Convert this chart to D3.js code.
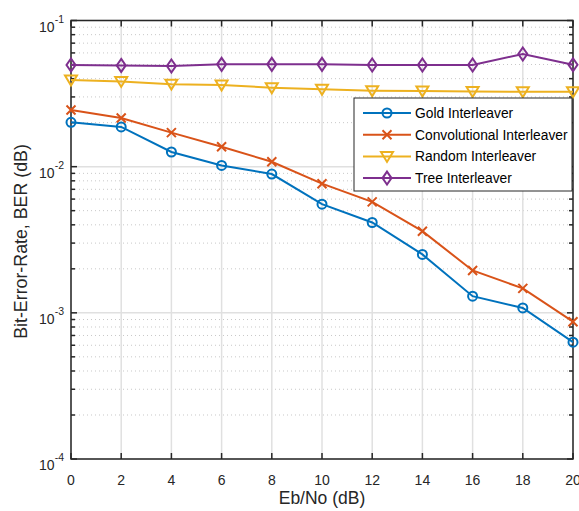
<!DOCTYPE html>
<html>
<head>
<meta charset="utf-8">
<script src="https://d3js.org/d3.v7.min.js"></script>
<style>
body { margin: 0; background: #fff; }
svg { display: block; font-family: "Liberation Sans", Arial, sans-serif; }
</style>
</head>
<body>
<script>
// data
var ebno = [0, 2, 4, 6, 8, 10, 12, 14, 16, 18, 20];
var goldBer = [0.0201, 0.0187, 0.0126, 0.0102, 0.0089, 0.00554, 0.00415, 0.00251, 0.0013, 0.00108, 0.00063];
var convBer = [0.0244, 0.0215, 0.0171, 0.0137, 0.0108, 0.00765, 0.00574, 0.00362, 0.00195, 0.00147, 0.00087];
var randBer = [0.0391, 0.0383, 0.0367, 0.0362, 0.0347, 0.0338, 0.0331, 0.0329, 0.0327, 0.0325, 0.0325];
var treeBer = [0.0496, 0.0493, 0.0488, 0.0501, 0.0501, 0.0501, 0.0496, 0.0496, 0.0496, 0.059, 0.0498];
var seriesNames = ["Gold Interleaver", "Convolutional Interleaver", "Random Interleaver", "Tree Interleaver"];
var xTicks = [0, 2, 4, 6, 8, 10, 12, 14, 16, 18, 20];
var yDecades = [-4, -3, -2, -1];

var W = 579, H = 511;
var pL = 71, pR = 573, pT = 20.5, pB = 459;

var colors = ["#0072BD", "#D95319", "#EDB120", "#7E2F8E"];
var markers = ["circle", "x", "tri", "diamond"];
var series = [goldBer, convBer, randBer, treeBer];

var svg = d3.select("body").append("svg")
    .attr("width", W)
    .attr("height", H);

var x = d3.scaleLinear().domain([0, 20]).range([pL, pR]);
var y = d3.scaleLog().domain([1e-4, 1e-1]).range([pB, pT]);

// minor grid (dotted) + major grid
var minorVals = [];
yDecades.slice(0, 3).forEach(function(e) {
  for (var m = 2; m <= 9; m++) minorVals.push(m * Math.pow(10, e));
});

var grid = svg.append("g");
grid.selectAll("line.minor").data(minorVals).enter().append("line")
    .attr("x1", pL).attr("x2", pR)
    .attr("y1", function(d) { return y(d); })
    .attr("y2", function(d) { return y(d); })
    .attr("stroke", "#c8c8c8")
    .attr("stroke-width", 1)
    .attr("stroke-dasharray", "1,3");

grid.selectAll("line.vx").data(xTicks).enter().append("line")
    .attr("x1", function(d) { return x(d); })
    .attr("x2", function(d) { return x(d); })
    .attr("y1", pT).attr("y2", pB)
    .attr("stroke", "#e0e0e0")
    .attr("stroke-width", 1.5);

grid.selectAll("line.hy").data(yDecades).enter().append("line")
    .attr("x1", pL).attr("x2", pR)
    .attr("y1", function(d) { return y(Math.pow(10, d)); })
    .attr("y2", function(d) { return y(Math.pow(10, d)); })
    .attr("stroke", "#e0e0e0")
    .attr("stroke-width", 1.5);

// axes box & ticks (inside, all four sides)
var axisCol = "#262626";
var ax = svg.append("g").attr("stroke", axisCol);
ax.append("rect")
    .attr("x", pL).attr("y", pT)
    .attr("width", pR - pL).attr("height", pB - pT)
    .attr("fill", "none").attr("stroke-width", 1.5);

xTicks.forEach(function(t) {
  ax.append("line").attr("x1", x(t)).attr("x2", x(t)).attr("y1", pB).attr("y2", pB - 6).attr("stroke-width", 1.5);
  ax.append("line").attr("x1", x(t)).attr("x2", x(t)).attr("y1", pT).attr("y2", pT + 6).attr("stroke-width", 1.5);
});
yDecades.forEach(function(e) {
  var yy = y(Math.pow(10, e));
  ax.append("line").attr("x1", pL).attr("x2", pL + 6).attr("y1", yy).attr("y2", yy).attr("stroke-width", 1.5);
  ax.append("line").attr("x1", pR).attr("x2", pR - 6).attr("y1", yy).attr("y2", yy).attr("stroke-width", 1.5);
});
minorVals.forEach(function(v) {
  var yy = y(v);
  ax.append("line").attr("x1", pL).attr("x2", pL + 4).attr("y1", yy).attr("y2", yy).attr("stroke-width", 1.5);
  ax.append("line").attr("x1", pR).attr("x2", pR - 4).attr("y1", yy).attr("y2", yy).attr("stroke-width", 1.5);
});

// tick labels
svg.append("g").selectAll("text").data(xTicks).enter().append("text")
    .attr("x", function(d) { return x(d); })
    .attr("y", pB + 26)
    .attr("text-anchor", "middle")
    .attr("font-size", 14)
    .attr("fill", axisCol)
    .text(function(d) { return d; });

var yl = svg.append("g").selectAll("text").data(yDecades).enter().append("text")
    .attr("x", pL - 7)
    .attr("y", function(d) { return y(Math.pow(10, d)) + 11; })
    .attr("text-anchor", "end")
    .attr("font-size", 14)
    .attr("fill", axisCol);
yl.append("tspan").text("10");
yl.append("tspan").attr("dy", -9).attr("font-size", 10.5).text(function(d) { return d; });

// axis titles
svg.append("text")
    .attr("x", (pL + pR) / 2)
    .attr("y", 504)
    .attr("text-anchor", "middle")
    .attr("font-size", 17.5)
    .attr("fill", axisCol)
    .text("Eb/No (dB)");

svg.append("text")
    .attr("transform", "translate(27," + 241.5 + ") rotate(-90)")
    .attr("text-anchor", "middle")
    .attr("font-size", 17.8)
    .attr("fill", axisCol)
    .text("Bit-Error-Rate, BER (dB)");

// markers
function markerPath(type) {
  if (type === "circle") return d3.symbol().type(d3.symbolCircle).size(Math.PI * 4.5 * 4.5)();
  if (type === "x") return "M-4.5,-4.5L4.5,4.5M-4.5,4.5L4.5,-4.5";
  if (type === "tri") return "M-6,-4.5L6,-4.5L0,5.5Z";
  return "M0,-6.5L4.5,0L0,6.5L-4.5,0Z";
}

var line = d3.line()
    .x(function(d, i) { return x(ebno[i]); })
    .y(function(d) { return y(d); });

var plot = svg.append("g");
series.forEach(function(s, k) {
  plot.append("path")
      .datum(s)
      .attr("d", line)
      .attr("fill", "none")
      .attr("stroke", colors[k])
      .attr("stroke-width", 2);
  plot.selectAll("path.m" + k).data(s).enter().append("path")
      .attr("class", "m" + k)
      .attr("transform", function(d, i) { return "translate(" + x(ebno[i]) + "," + y(d) + ")"; })
      .attr("d", markerPath(markers[k]))
      .attr("fill", "none")
      .attr("stroke", colors[k])
      .attr("stroke-width", 2);
});

// legend
var lg = svg.append("g");
lg.append("rect")
    .attr("x", 354).attr("y", 98)
    .attr("width", 218).attr("height", 93)
    .attr("fill", "#fff")
    .attr("stroke", axisCol)
    .attr("stroke-width", 1);
seriesNames.forEach(function(name, k) {
  var yy = 113 + k * 21.7;
  lg.append("line")
      .attr("x1", 363).attr("x2", 411)
      .attr("y1", yy).attr("y2", yy)
      .attr("stroke", colors[k]).attr("stroke-width", 2);
  lg.append("path")
      .attr("transform", "translate(387," + yy + ")")
      .attr("d", markerPath(markers[k]))
      .attr("fill", "none")
      .attr("stroke", colors[k]).attr("stroke-width", 2);
  lg.append("text")
      .attr("x", 415).attr("y", yy + 5)
      .attr("font-size", 13.8)
      .attr("fill", "#000")
      .text(name);
});
</script>
</body>
</html>
